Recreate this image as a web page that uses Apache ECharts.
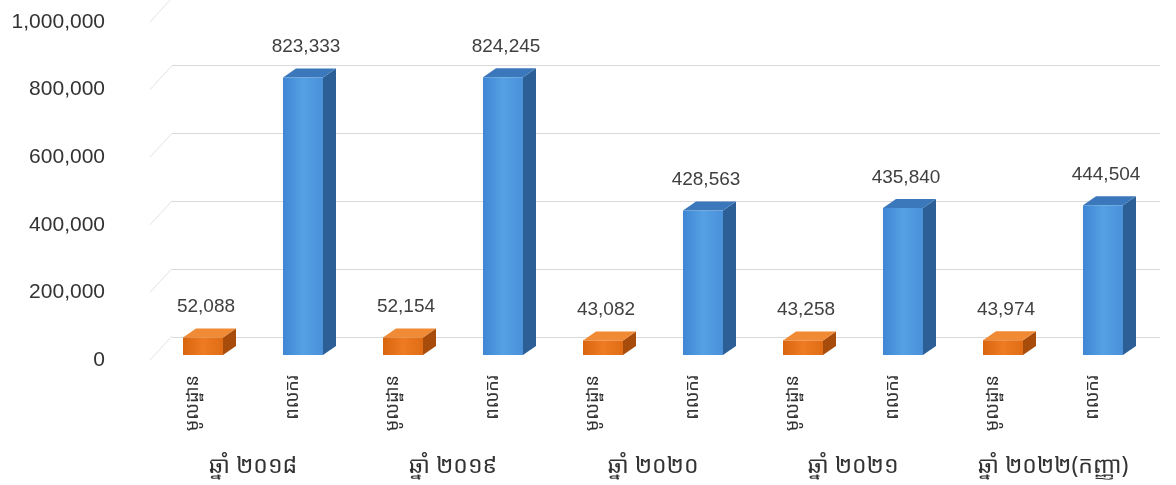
<!DOCTYPE html>
<html>
<head>
<meta charset="utf-8">
<script src="https://cdn.jsdelivr.net/npm/echarts@6/dist/echarts.min.js"></script>
<style>
html,body{margin:0;padding:0;background:#ffffff;}
#chart{width:1176px;height:485px;}
</style>
</head>
<body>
<div id="chart"></div>
<script>
// ---- data ----
const years = ['ឆ្នាំ ២០១៨', 'ឆ្នាំ ២០១៩', 'ឆ្នាំ ២០២០', 'ឆ្នាំ ២០២១', 'ឆ្នាំ ២០២២(កញ្ញា)'];
const groupNames = ['មូលដ្ឋាន', 'ពលករ'];
const orangeValues = [52088, 52154, 43082, 43258, 43974];
const blueValues = [823333, 824245, 428563, 435840, 444504];
const yTicks = [0, 200000, 400000, 600000, 800000, 1000000];

// ---- build ----
const categories = [];
years.forEach(() => { categories.push(groupNames[0], groupNames[1]); });
const orangeData = orangeValues.map((v, i) => [i * 2, v]);
const blueData = blueValues.map((v, i) => [i * 2 + 1, v]);

const khmerFont = '"Noto Sans Khmer","Khmer OS","Khmer OS System","Noto Sans",sans-serif';
const numFont = '"Liberation Sans",Arial,sans-serif';
const fmt = v => String(v).replace(/\B(?=(\d{3})+(?!\d))/g, ',');

function box(colors) {
  return function (params, api) {
    const idx = api.value(0), val = api.value(1);
    const base = api.coord([idx, 0]);
    const top = api.coord([idx, val]);
    const w = 40, dx = 13, dy = 9;
    const x0 = base[0] - w / 2, x1 = base[0] + w / 2;
    const yt = top[1], yb = base[1];
    return {
      type: 'group',
      children: [
        { type: 'polygon', shape: { points: [[x1, yt], [x1 + dx, yt - dy], [x1 + dx, yb - dy], [x1, yb]] },
          style: { fill: colors.side } },
        { type: 'polygon', shape: { points: [[x0, yt], [x0 + dx, yt - dy], [x1 + dx, yt - dy], [x1, yt]] },
          style: { fill: colors.top } },
        { type: 'rect', shape: { x: x0, y: yt, width: w, height: yb - yt },
          style: { fill: { type: 'linear', x: 0, y: 0, x2: 1, y2: 0,
            colorStops: [{ offset: 0, color: colors.f0 }, { offset: 0.5, color: colors.f1 }, { offset: 1, color: colors.f2 }] } } },
        { type: 'text', x: base[0] + 3, y: yt - dy - 12,
          style: { text: fmt(val), fill: '#404040', font: '19px ' + numFont, textAlign: 'center', textVerticalAlign: 'bottom' } }
      ]
    };
  };
}

const chart = echarts.init(document.getElementById('chart'), null, { renderer: 'canvas' });
chart.setOption({
  animation: false,
  backgroundColor: '#ffffff',
  grid: [
    { left: 115, width: 1000, top: 22, bottom: 125 },          // 0: y labels
    { left: 172, right: 16, top: 65, bottom: 148 },            // 1: back wall gridlines
    { left: 153, width: 1000, top: 18, bottom: 130 },          // 2: bars
    { left: 143, width: 1000, top: 18, bottom: 130 }           // 3: rotated sub labels
  ],
  xAxis: [
    { gridIndex: 0, type: 'category', data: categories, show: false },
    { gridIndex: 1, type: 'category', data: categories, show: false },
    { gridIndex: 2, type: 'category', data: categories, axisLine: { show: false }, axisTick: { show: false }, axisLabel: { show: false } },
    { gridIndex: 3, type: 'category', data: categories, axisLine: { show: false }, axisTick: { show: false },
      axisLabel: { interval: 0, rotate: 90, margin: 20, fontSize: 18, color: '#333', fontFamily: khmerFont } },
    { gridIndex: 2, type: 'category', data: years, position: 'bottom', axisLine: { show: false }, axisTick: { show: false },
      axisLabel: { interval: 0, margin: 100, fontSize: 23, color: '#333', fontFamily: khmerFont } }
  ],
  yAxis: [
    { gridIndex: 0, type: 'value', min: 0, max: 1000000, interval: 200000,
      axisLine: { show: false }, axisTick: { show: false }, splitLine: { show: false },
      axisLabel: { margin: 10, fontSize: 21, color: '#333', fontFamily: numFont, formatter: v => fmt(v) } },
    { gridIndex: 1, type: 'value', min: 0, max: 800000, interval: 200000,
      axisLine: { show: false }, axisTick: { show: false }, axisLabel: { show: false },
      splitLine: { show: true, lineStyle: { color: '#d9d9d9', width: 1 } } },
    { gridIndex: 2, type: 'value', min: 0, max: 1000000, interval: 200000, show: false },
    { gridIndex: 3, type: 'value', min: 0, max: 1000000, show: false }
  ],
  series: [
    { type: 'custom', name: 'wall', xAxisIndex: 0, yAxisIndex: 0, silent: true,
      data: yTicks.map(v => [0, v]),
      renderItem: (params, api) => {
        const p = api.coord([0, api.value(1)]);
        return { type: 'line', shape: { x1: 150, y1: p[1], x2: 172, y2: p[1] - 24 }, style: { stroke: '#e3e3e3', lineWidth: 1 } };
      } },
    { type: 'custom', name: groupNames[0], xAxisIndex: 2, yAxisIndex: 2, data: orangeData,
      renderItem: box({ side: '#a84c0c', top: '#f08a35', f0: '#d9650f', f1: '#ee7a22', f2: '#e06c15' }) },
    { type: 'custom', name: groupNames[1], xAxisIndex: 2, yAxisIndex: 2, data: blueData,
      renderItem: box({ side: '#2c5f96', top: '#3b78bb', f0: '#3f86d3', f1: '#55a0e4', f2: '#4a90da' }) }
  ]
});
</script>
</body>
</html>
